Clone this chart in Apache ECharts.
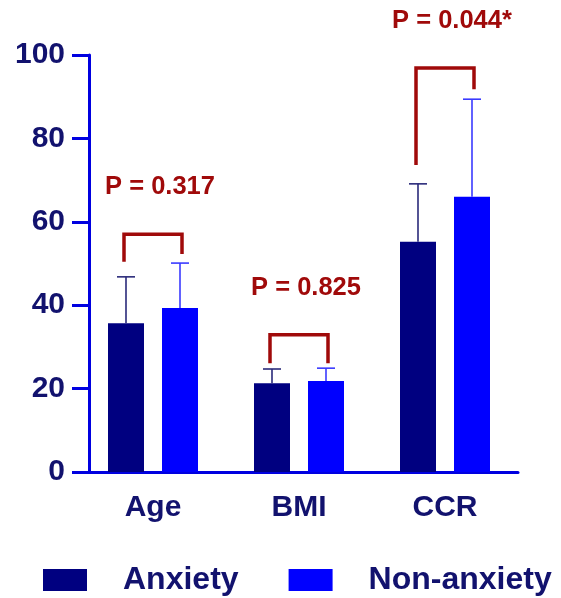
<!DOCTYPE html>
<html>
<head>
<meta charset="utf-8">
<script src="https://cdn.jsdelivr.net/npm/echarts@6/dist/echarts.min.js"></script>
<style>
  html, body { margin: 0; padding: 0; background: #fff; }
  #chart { width: 561px; height: 598px; }
</style>
</head>
<body>
<div id="chart"></div>
<script>
  // data
  const categories = ['Age', 'BMI', 'CCR'];
  const anxietyMean = [35.7, 21.3, 55.2];
  const anxietySD = [11.1, 3.4, 13.9];
  const nonAnxietyMean = [39.3, 21.8, 66.0];
  const nonAnxietySD = [10.8, 3.1, 23.4];
  // significance brackets: top of bracket, bottom of left leg, bottom of right leg
  const bracketTop = [57.0, 32.9, 96.9];
  const bracketLeft = [50.4, 26.1, 73.6];
  const bracketRight = [52.3, 26.1, 91.8];
  const pLabels = ['P = 0.317', 'P = 0.825', 'P = 0.044*'];
  const yTicks = [0, 20, 40, 60, 80, 100];

  const navy = '#000080';
  const blue = '#0000ff';
  const axisBlue = '#0000e0';
  const labelNavy = '#12126e';
  const red = '#a00a0a';
  const barW = 36;
  const half = 27; // distance of each bar centre from the category centre

  function errorData(mean, sd) {
    return mean.map((m, i) => [i, m + sd[i], m]);
  }

  function errorSeries(name, mean, sd, dx, color) {
    return {
      name: name + ' SD',
      type: 'custom',
      z: 5,
      silent: true,
      data: errorData(mean, sd),
      renderItem: function (params, api) {
        const top = api.coord([api.value(0), api.value(1)]);
        const base = api.coord([api.value(0), api.value(2)]);
        const x = top[0] + dx;
        const style = { stroke: color, lineWidth: 1.6 };
        return {
          type: 'group',
          children: [
            { type: 'line', shape: { x1: x, y1: base[1], x2: x, y2: top[1] }, style: style },
            { type: 'line', shape: { x1: x - 9, y1: top[1], x2: x + 9, y2: top[1] }, style: style }
          ]
        };
      }
    };
  }

  const chart = echarts.init(document.getElementById('chart'));
  chart.setOption({
    animation: false,
    backgroundColor: '#fff',
    textStyle: { fontFamily: 'Liberation Sans, Arial, sans-serif' },
    grid: { left: 80, right: 43, top: 55, bottom: 126, containLabel: false },
    legend: {
      left: 38,
      top: 559,
      itemWidth: 44,
      itemHeight: 22,
      itemGap: 50,
      icon: 'rect',
      data: ['Anxiety', 'Non-anxiety'],
      textStyle: {
        fontSize: 32,
        fontWeight: 'bold',
        color: labelNavy,
        padding: [0, 0, 0, 31]
      }
    },
    xAxis: {
      type: 'category',
      data: categories,
      axisLine: { lineStyle: { color: axisBlue, width: 3 } },
      axisTick: { alignWithLabel: true, length: 16, lineStyle: { color: axisBlue, width: 3 } },
      axisLabel: { margin: 21, fontSize: 30, fontWeight: 'bold', color: labelNavy }
    },
    yAxis: {
      type: 'value',
      min: 0,
      max: 100,
      interval: 20,
      offset: -9,
      splitLine: { show: false },
      axisLine: { show: true, lineStyle: { color: axisBlue, width: 3 } },
      axisTick: { show: true, length: 17, lineStyle: { color: axisBlue, width: 3 } },
      axisLabel: {
        margin: 24,
        fontSize: 30,
        fontWeight: 'bold',
        color: labelNavy,
        formatter: v => (yTicks.indexOf(v) >= 0 ? String(v) : '')
      }
    },
    series: [
      {
        name: 'Anxiety',
        type: 'bar',
        data: anxietyMean,
        barWidth: barW,
        barGap: '50%',
        itemStyle: { color: navy }
      },
      {
        name: 'Non-anxiety',
        type: 'bar',
        data: nonAnxietyMean,
        barWidth: barW,
        barGap: '50%',
        itemStyle: { color: blue }
      },
      errorSeries('Anxiety', anxietyMean, anxietySD, -half, '#2a2a7a'),
      errorSeries('Non-anxiety', nonAnxietyMean, nonAnxietySD, half, '#3a3aff'),
      {
        name: 'brackets',
        type: 'custom',
        z: 6,
        silent: true,
        clip: false,
        data: categories.map((c, i) => [i, bracketTop[i], bracketLeft[i], bracketRight[i]]),
        renderItem: function (params, api) {
          const i = api.value(0);
          const top = api.coord([i, api.value(1)]);
          const l = api.coord([i, api.value(2)]);
          const r = api.coord([i, api.value(3)]);
          const x1 = top[0] - 29;
          const x2 = top[0] + 29;
          return {
            type: 'group',
            children: [
              {
                type: 'polyline',
                shape: { points: [[x1, l[1]], [x1, top[1]], [x2, top[1]], [x2, r[1]]] },
                style: { stroke: red, lineWidth: 3.5, fill: null, lineJoin: 'miter' }
              },
              {
                type: 'text',
                x: top[0] + 7,
                y: top[1] - 47,
                style: {
                  text: pLabels[params.dataIndex],
                  fill: red,
                  font: 'bold 25.5px "Liberation Sans", Arial, sans-serif',
                  align: 'center',
                  verticalAlign: 'middle'
                }
              }
            ]
          };
        }
      }
    ]
  });
</script>
</body>
</html>
